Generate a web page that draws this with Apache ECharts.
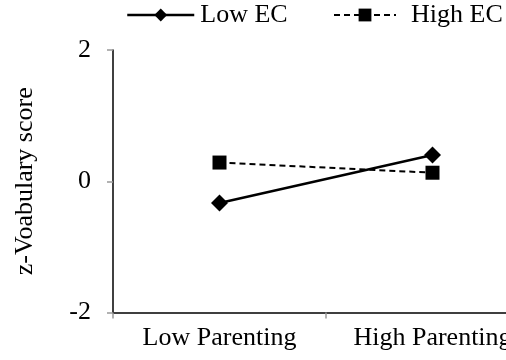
<!DOCTYPE html>
<html><head><meta charset="utf-8">
<script src="https://cdn.jsdelivr.net/npm/echarts@6/dist/echarts.min.js"></script>
<style>html,body{margin:0;padding:0;background:#fff;overflow:hidden;width:506px;height:360px}#c{width:560px;height:360px}</style>
</head><body><div id="c"></div>
<script>
const categories = ['Low Parenting', 'High Parenting'];
const lowEC = [-0.33, 0.40];
const highEC = [0.285, 0.13];
const yTicks = [-2, 0, 2];
const F = '"Liberation Serif", "Times New Roman", serif';
const chart = echarts.init(document.getElementById('c'), null, {renderer: 'canvas'});
chart.setOption({
  animation: false,
  backgroundColor: '#fff',
  legend: [
    {left: 126, top: 2, padding: 0, itemWidth: 67, itemHeight: 16, itemGap: 0, data: ['Low EC'],
     lineStyle: {width: 2.5},
     textStyle: {fontFamily: F, fontSize: 26, color: '#000', padding: [0,0,0,1]}},
    {left: 333, top: 2, padding: 0, itemWidth: 62, itemHeight: 16, itemGap: 0, data: ['High EC'],
     lineStyle: {width: 2},
     textStyle: {fontFamily: F, fontSize: 26, color: '#000', padding: [0,0,0,10]}}
  ],
  grid: {left: 113, top: 50, bottom: 47.5, right: 21, containLabel: false},
  xAxis: {
    type: 'category', data: categories, boundaryGap: true,
    axisLine: {onZero: false, lineStyle: {color: '#000', width: 1.5}},
    axisTick: {show: true, interval: 0, length: 6, lineStyle: {color: '#999', width: 1.5}},
    axisLabel: {interval: 0, fontFamily: F, fontSize: 26, color: '#000', margin: 13}
  },
  yAxis: {
    type: 'value', min: yTicks[0], max: yTicks[2], interval: 2,
    name: 'z-Voabulary score', nameLocation: 'middle', nameGap: 75, nameRotate: 90,
    nameTextStyle: {fontFamily: F, fontSize: 26, color: '#000'},
    splitLine: {show: false},
    axisLine: {show: true, lineStyle: {color: '#000', width: 1.5}},
    axisTick: {show: true, length: 6, lineStyle: {color: '#999', width: 1.5}},
    axisLabel: {fontFamily: F, fontSize: 26, color: '#000', margin: 22}
  },
  series: [
    {name: 'Low EC', type: 'line', data: lowEC, symbol: 'diamond', symbolSize: 17,
     lineStyle: {color: '#000', width: 2.5}, itemStyle: {color: '#000'}},
    {name: 'High EC', type: 'line', data: highEC, symbol: 'rect', symbolSize: 14,
     lineStyle: {color: '#000', width: 2, type: [6, 4]}, itemStyle: {color: '#000'}}
  ]
});
</script></body></html>
